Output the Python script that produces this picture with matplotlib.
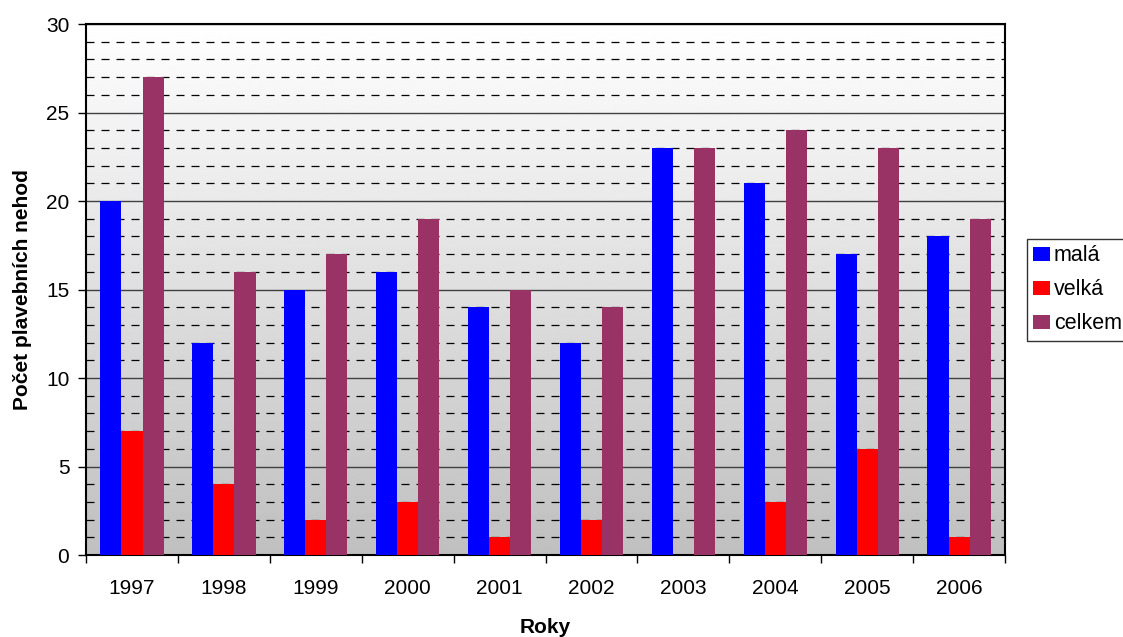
import matplotlib
matplotlib.use("Agg")
import matplotlib.pyplot as plt
import numpy as np
from matplotlib.ticker import MultipleLocator

plt.rcParams['font.family'] = ['Liberation Sans', 'DejaVu Sans']

years = ["1997", "1998", "1999", "2000", "2001", "2002", "2003", "2004", "2005", "2006"]
mala = [20, 12, 15, 16, 14, 12, 23, 21, 17, 18]
velka = [7, 4, 2, 3, 1, 2, 0, 3, 6, 1]
celkem = [27, 16, 17, 19, 15, 14, 23, 24, 23, 19]

fig = plt.figure(figsize=(11.23, 6.37), dpi=100)
ax = fig.add_axes([0.0766, 0.1287, 0.8184, 0.8336])

x = np.arange(len(years))
w = 0.23

# gradient background, white at top to grey at bottom
grad = np.linspace(0.75, 1.0, 256).reshape(-1, 1)
ax.imshow(grad, cmap='gray', vmin=0, vmax=1, aspect='auto',
          extent=[-0.5, len(years) - 0.5, 0, 30], origin='lower', zorder=0)

ax.bar(x - w, mala, w, color='#0000ff', label='malá', zorder=3)
ax.bar(x, velka, w, color='#ff0000', label='velká', zorder=3)
ax.bar(x + w, celkem, w, color='#993366', label='celkem', zorder=3)

ax.set_xlim(-0.5, len(years) - 0.5)
ax.set_ylim(0, 30)
ax.yaxis.set_major_locator(MultipleLocator(5))
ax.yaxis.set_minor_locator(MultipleLocator(1))
ax.grid(which='major', axis='y', color='#404040', linewidth=1, zorder=1)
ax.grid(which='minor', axis='y', color='black', linestyle=(0, (6.4, 5.6)), linewidth=0.9, zorder=1)
ax.set_axisbelow(True)

ax.set_xticks(x)
ax.set_xticklabels(years)
ax.set_xticks(np.arange(-0.5, len(years)), minor=True)
ax.tick_params(axis='x', which='major', length=0, labelsize=15, pad=17)
ax.tick_params(axis='x', which='minor', length=6, width=1)
ax.tick_params(axis='y', which='major', length=6, width=1, labelsize=15, pad=6)
ax.tick_params(axis='y', which='minor', length=0)

for s in ax.spines.values():
    s.set_linewidth(1.5)

ax.set_xlabel("Roky", fontsize=15, fontweight='bold', labelpad=15)
ax.set_ylabel("Počet plavebních nehod", fontsize=15, fontweight='bold', labelpad=10)

leg = fig.legend(loc='upper left', bbox_to_anchor=(1027 / 1123, 1 - 239 / 637),
                 fontsize=15.5, frameon=True, fancybox=False, edgecolor='black',
                 handlelength=0.75, handleheight=0.65, handletextpad=0.2,
                 borderpad=0.3, labelspacing=0.6, borderaxespad=0)
leg.get_frame().set_linewidth(1)

fig.savefig("out.png", dpi=100)
